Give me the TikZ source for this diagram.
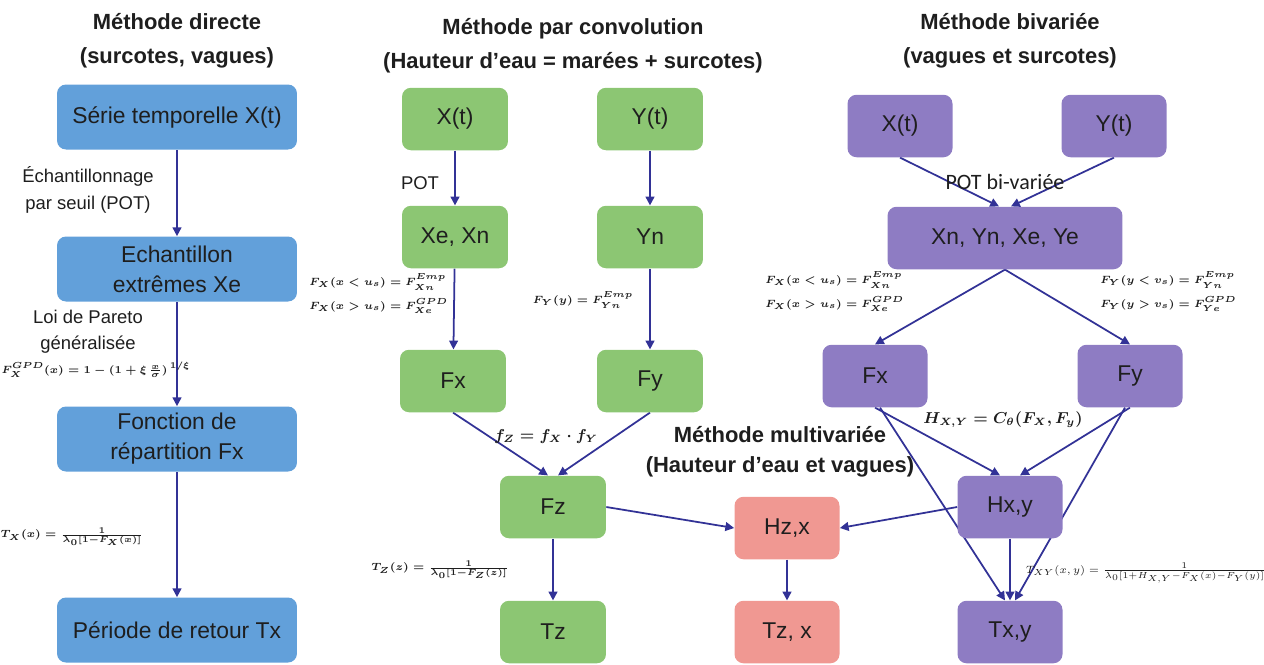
\documentclass[tikz,border=0pt]{standalone}
\usepackage{fontspec}
\setmainfont{Liberation Sans}
\newfontfamily\calibri{Carlito}
\usetikzlibrary{arrows.meta, backgrounds}

\definecolor{boxblue}{RGB}{98,160,218}
\definecolor{boxgreen}{RGB}{140,198,115}
\definecolor{boxpurple}{RGB}{142,124,195}
\definecolor{boxpink}{RGB}{240,152,146}
\definecolor{linkblue}{RGB}{50,50,150}
\definecolor{textdark}{RGB}{30,30,30}

\begin{document}
\begin{tikzpicture}[x=0.02cm, y=-0.02cm,
    box/.style={rectangle, rounded corners=0.18cm, text=textdark, font=\fontsize{13}{17}\selectfont, align=center, inner sep=0pt},
    bluebox/.style={box, fill=boxblue, minimum width=4.8cm, minimum height=1.3cm},
    greenbox/.style={box, fill=boxgreen, minimum width=2.12cm, minimum height=1.25cm},
    purplebox/.style={box, fill=boxpurple, minimum width=2.1cm, minimum height=1.25cm},
    pinkbox/.style={box, fill=boxpink, minimum width=2.1cm, minimum height=1.25cm},
    title/.style={text=textdark, font=\bfseries\fontsize{12.5}{19.5}\selectfont, align=center},
    label/.style={text=textdark, font=\fontsize{10.5}{15}\selectfont, align=center},
    formula/.style={text=textdark, font=\fontsize{6.5}{12}\selectfont\boldmath, align=left, inner sep=0pt},
    arrow/.style={-{Triangle[length=5pt,width=5pt]}, draw=linkblue, line width=1pt},
    link/.style={draw=linkblue, line width=1pt}
]
\useasboundingbox (0,0) rectangle (1264,664);

% titles
\node [title] (tdirect) at (177,41) {Méthode directe\\(surcotes, vagues)};
\node [title] (tconv) at (573,46) {Méthode par convolution\\(Hauteur d’eau = marées + surcotes)};
\node [title] (tbiv) at (1010,41) {Méthode bivariée\\(vagues et surcotes)};
\node [title, font=\bfseries\fontsize{12.5}{17}\selectfont] (tmulti) at (780,452) {Méthode multivariée\\(Hauteur d’eau et vagues)};

% methode directe
\node [bluebox] (serie) at (177,117) {Série temporelle X(t)};
\node [bluebox] (echant) at (177,269) {Echantillon\\extrêmes Xe};
\node [bluebox] (fonction) at (177,439) {Fonction de\\répartition Fx};
\node [bluebox] (periode) at (177,630) {Période de retour Tx};

\node [label] (seuil) at (88,190) {Échantillonnage\\par seuil (POT)};
\node [label] (pareto) at (88,332) {Loi de Pareto\\généralisée};
\node [formula] (gpd) at (96,370) {$F_X^{GPD}(x) = 1 - (1 + \xi\,\frac{x}{\sigma})^{\,1/\xi}$};
\node [formula] (tx) at (72,537) {$T_X(x) = \frac{1}{\lambda_0[1-F_X(x)]}$};

% methode par convolution
\node [greenbox] (gxt) at (455,119) {X(t)};
\node [greenbox] (gyt) at (650,119) {Y(t)};
\node [greenbox] (gxexn) at (455,237) {Xe, Xn};
\node [greenbox] (gyn) at (650,237) {Yn};
\node [greenbox] (gfx) at (453,381) {Fx};
\node [greenbox] (gfy) at (650,381) {Fy};
\node [greenbox] (gfz) at (553,507) {Fz};
\node [greenbox] (gtz) at (553,632) {Tz};

\node [label] (pot) at (420,183) {POT};
\node [formula, anchor=west] (gfxa) at (309,282) {$F_X(x < u_s) = F_{Xn}^{Emp}$};
\node [formula, anchor=west] (gfxb) at (309,306) {$F_X(x > u_s) = F_{Xe}^{GPD}$};
\node [formula] (gfyf) at (583,300) {$F_Y(y) = F_{Yn}^{Emp}$};
\node [formula, font=\fontsize{9}{11}\selectfont\boldmath] (fzf) at (546,437) {$f_Z = f_X \cdot f_Y$};
\node [formula] (tzf) at (440,570) {$T_Z(z) = \frac{1}{\lambda_0[1-F_Z(z)]}$};

% methode bivariee
\node [purplebox] (pxt) at (900,126) {X(t)};
\node [purplebox] (pyt) at (1114,126) {Y(t)};
\node [purplebox, minimum width=4.7cm] (pxy) at (1005,238) {Xn, Yn, Xe, Ye};
\node [purplebox] (pfx) at (875,376) {Fx};
\node [purplebox] (pfy) at (1130,376) {Fy};
\node [purplebox] (phxy) at (1010,507) {Hx,y};
\node [purplebox] (ptxy) at (1010,632) {Tx,y};

\node [label, font=\calibri\fontsize{12.5}{15}\selectfont] (potbi) at (1005,182) {POT bi-variée};
\node [formula, anchor=west] (pfxa) at (765,280) {$F_X(x < u_s) = F_{Xn}^{Emp}$};
\node [formula, anchor=west] (pfxb) at (765,304) {$F_X(x > u_s) = F_{Xe}^{GPD}$};
\node [formula, anchor=west] (pfya) at (1100,280) {$F_Y(y < v_s) = F_{Yn}^{Emp}$};
\node [formula, anchor=west] (pfyb) at (1100,304) {$F_Y(y > v_s) = F_{Ye}^{GPD}$};
\node [formula, font=\fontsize{9}{11}\selectfont\boldmath] (hxyf) at (1003,420) {$H_{X,Y} = C_\theta(F_X, F_y)$};
\node [formula, font=\fontsize{6}{11}\selectfont] (txyf) at (1146,573) {$T_{XY}(x,y) = \frac{1}{\lambda_0[1+H_{X,Y}-F_X(x)-F_Y(y)]}$};

% methode multivariee
\node [pinkbox] (hzx) at (787,528) {Hz,x};
\node [pinkbox] (tzx) at (787,632) {Tz, x};

\begin{scope}[on background layer]
    \draw [arrow] (serie) -- (echant);
    \draw [arrow] (echant) -- (fonction);
    \draw [arrow] (fonction) -- (periode);

    \draw [arrow] (gxt) -- (gxexn);
    \draw [arrow] (gxexn) -- (gfx);
    \draw [arrow] (gyt) -- (gyn);
    \draw [arrow] (gyn) -- (gfy);
    \draw [arrow] (gfx.south) -- ([xshift=-0.1cm]gfz.north);
    \draw [arrow] (gfy.south) -- ([xshift=0.1cm]gfz.north);
    \draw [arrow] (gfz) -- (gtz);
    \draw [arrow] (gfz.east) -- (hzx.west);

    \draw [arrow] (pxt.south) -- ([xshift=-0.12cm]pxy.north);
    \draw [arrow] (pyt.south) -- ([xshift=0.12cm]pxy.north);
    \draw [arrow] (pxy.south) -- (pfx.north);
    \draw [arrow] (pxy.south) -- (pfy.north);
    \draw [arrow] (pfx.south) -- ([xshift=-0.2cm]phxy.north);
    \draw [arrow] (pfy.south) -- ([xshift=0.2cm]phxy.north);
    \draw [arrow] ([xshift=0.1cm]pfx.south) -- ([xshift=-0.1cm]ptxy.north);
    \draw [arrow] ([xshift=-0.1cm]pfy.south) -- ([xshift=0.1cm]ptxy.north);
    \draw [arrow] (phxy) -- (ptxy);
    \draw [arrow] (phxy.west) -- (hzx.east);

    \draw [arrow] (hzx) -- (tzx);
\end{scope}
\end{tikzpicture}
\end{document}
